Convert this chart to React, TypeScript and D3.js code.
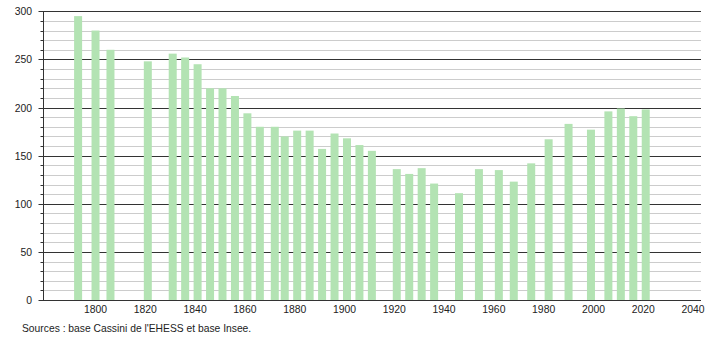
import React from "react";
import * as d3 from "d3";

const years = [1793, 1800, 1806, 1821, 1831, 1836, 1841, 1846, 1851, 1856, 1861, 1866, 1872, 1876, 1881, 1886, 1891, 1896, 1901, 1906, 1911, 1921, 1926, 1931, 1936, 1946, 1954, 1962, 1968, 1975, 1982, 1990, 1999, 2006, 2011, 2016, 2021];
const population = [295, 280, 260, 248, 256, 252, 245, 220, 220, 212, 194, 180, 180, 170, 176, 176, 157, 173, 168, 161, 155, 136, 131, 137, 121, 111, 136, 135, 123, 142, 167, 183, 177, 196, 199, 191, 198];
const xTicks = [1800, 1820, 1840, 1860, 1880, 1900, 1920, 1940, 1960, 1980, 2000, 2020, 2040];
const yMajor = [0, 50, 100, 150, 200, 250, 300];
const yMinor = d3.range(0, 301, 10).filter((v) => v % 50 !== 0);
const sourceText = "Sources : base Cassini de l'EHESS et base Insee.";

export default function App() {
  const W = 710, H = 340;
  const left = 43.5, right = 701, top = 11, bottom = 300;
  const x = d3.scaleLinear().domain([1779.1, 2043.2]).range([left, right]);
  const y = d3.scaleLinear().domain([0, 300]).range([bottom, top + 0.3]);
  const bw = 8;
  const font = "'Liberation Sans', Arial, sans-serif";
  return (
    <svg width={W} height={H} style={{ position: "absolute", left: 0, top: 0, background: "#fff" }} fontFamily={font}>
      <rect width={W} height={H} fill="#fff" />
      {yMinor.map((v) => (
        <g key={"mi" + v}>
          <line x1={left} x2={right} y1={Math.round(y(v)) + 0.5} y2={Math.round(y(v)) + 0.5} stroke="#cccccc" strokeWidth={1} />
          <line x1={left - 3} x2={left} y1={Math.round(y(v)) + 0.5} y2={Math.round(y(v)) + 0.5} stroke="#333" strokeWidth={1} />
        </g>
      ))}
      {yMajor.map((v) => (
        <g key={"ma" + v}>
          <line x1={left - 5} x2={right} y1={Math.round(y(v)) + 0.5} y2={Math.round(y(v)) + 0.5} stroke="#333" strokeWidth={1} />
          <text x={32} y={y(v) + 4} fontSize={10.4} textAnchor="end" fill="#222">{v}</text>
        </g>
      ))}
      {years.map((yr, i) => (
        <rect key={yr} x={x(yr) - bw / 2} y={y(population[i])} width={bw} height={bottom - y(population[i])} fill="#b3e3b3" />
      ))}
      <line x1={left} x2={left} y1={top} y2={bottom + 0.5} stroke="#333" strokeWidth={1} />
      <line x1={left} x2={right} y1={bottom + 0.5} y2={bottom + 0.5} stroke="#333" strokeWidth={1} />
      {xTicks.map((t) => (
        <text key={t} x={x(t)} y={313} fontSize={10.4} textAnchor="middle" fill="#222">{t}</text>
      ))}
      <text x={22} y={332} fontSize={10.3} fill="#222">{sourceText}</text>
    </svg>
  );
}
